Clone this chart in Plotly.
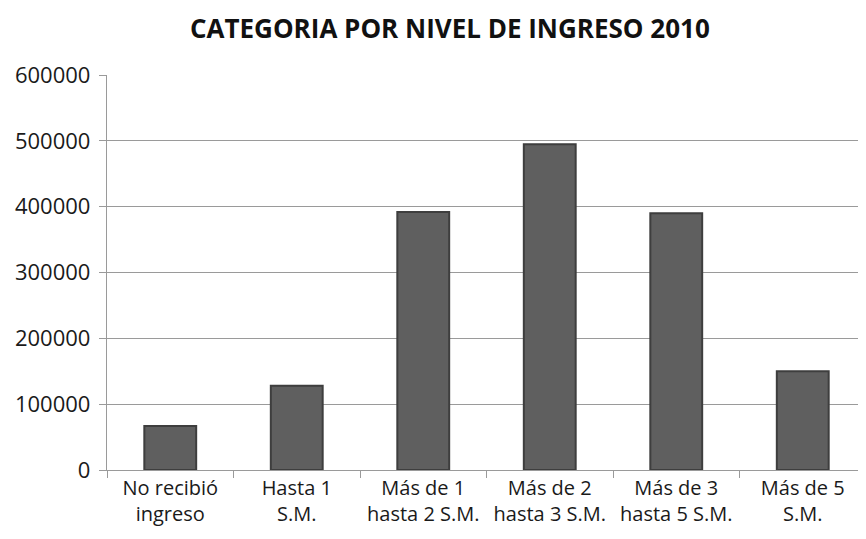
import plotly.graph_objects as go

categories = [
    "No recibió<br>ingreso",
    "Hasta 1<br>S.M.",
    "Más de 1<br>hasta 2 S.M.",
    "Más de 2<br>hasta 3 S.M.",
    "Más de 3<br>hasta 5 S.M.",
    "Más de 5<br>S.M.",
]
values = [67000, 128000, 392000, 495000, 390000, 150000]
y_ticks = [0, 100000, 200000, 300000, 400000, 500000, 600000]

FONT = "'Open Sans', Lato, sans-serif"
GRID = "#9a9a9a"

fig = go.Figure(go.Bar(
    x=categories,
    y=values,
    width=0.41,
    marker={"color": "#5f5f5f", "line": {"color": "#3e3e3e", "width": 2}},
))

# page body adds an 8px offset, so the figure is sized to fit the window
fig.update_layout(
    width=858,
    height=531,
    paper_bgcolor="white",
    plot_bgcolor="white",
    showlegend=False,
    margin={"l": 99, "r": 0, "t": 67, "b": 69},
    font={"family": FONT, "color": "#1a1a1a", "size": 20},
    title={
        "text": "<b>CATEGORIA POR NIVEL DE INGRESO 2010</b>",
        "x": 0.515, "xanchor": "center", "y": 0.96, "yanchor": "middle",
        "font": {"size": 26, "family": FONT, "color": "#111111"},
    },
)
fig.update_yaxes(
    range=[0, 600000],
    tickvals=y_ticks,
    tickformat="d",
    automargin=False,
    showgrid=True, gridcolor=GRID, gridwidth=1.3,
    showline=True, linecolor=GRID, linewidth=1.3,
    ticks="outside", ticklen=7, tickcolor=GRID,
    ticklabelstandoff=4,
    zeroline=False,
    tickfont={"size": 22},
)
fig.update_xaxes(
    automargin=False,
    tickangle=0,
    showline=True, linecolor=GRID, linewidth=1.3,
    ticks="outside", ticklen=7, tickcolor=GRID, tickson="boundaries",
    tickfont={"size": 20},
    showgrid=False,
)

fig.write_html("out.html")
